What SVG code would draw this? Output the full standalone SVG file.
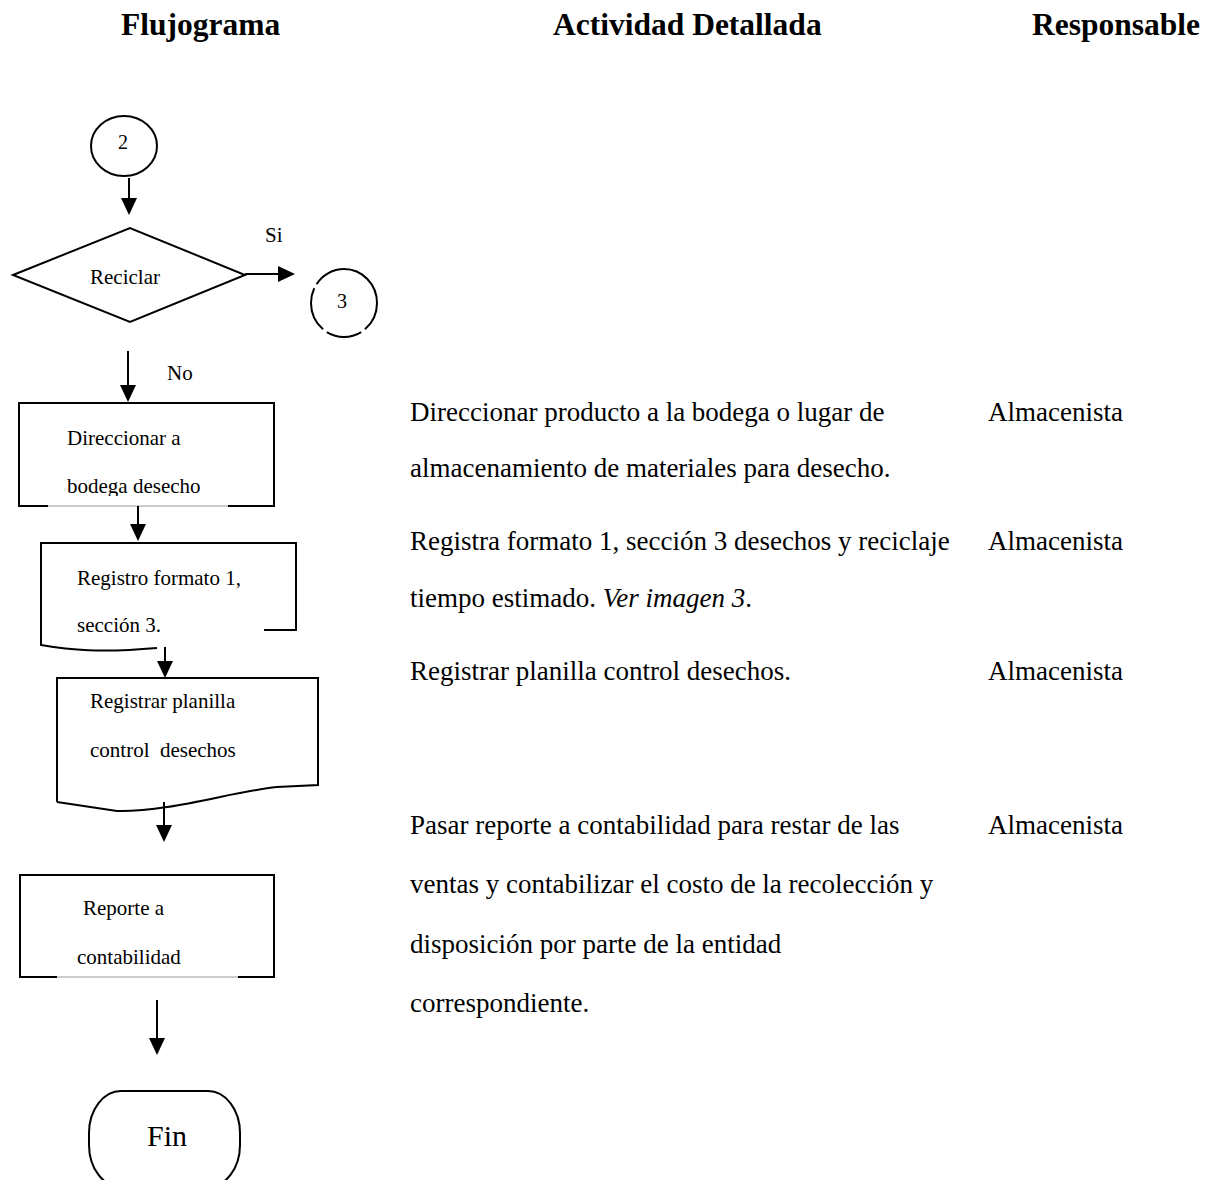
<svg xmlns="http://www.w3.org/2000/svg" width="1212" height="1180" viewBox="0 0 1212 1180">
  <defs>
    <style>
      text { font-family: "Liberation Serif", "Times New Roman", serif; fill: #000; }
      .hd { font-weight: bold; font-size: 31.5px; }
      .bd { font-size: 27px; }
      .fc { font-size: 21px; }
      .num { font-size: 20px; text-anchor: middle; }
      .sh { fill: none; stroke: #000; stroke-width: 2; }
      .thin { fill: none; stroke: #9a9a9a; stroke-width: 1; }
      .ln { fill: none; stroke: #000; stroke-width: 2; marker-end: url(#ah); }
    </style>
    <marker id="ah" markerUnits="userSpaceOnUse" markerWidth="17" markerHeight="16" viewBox="0 0 17 16" refX="7" refY="8" orient="auto">
      <path d="M0,0 L17,8 L0,16 Z" fill="#000"/>
    </marker>
    <clipPath id="clipBodega">
      <rect x="0" y="400" width="300" height="96"/>
    </clipPath>
  </defs>

  <rect width="1212" height="1180" fill="#fff"/>

  <!-- column headings -->
  <g id="headings">
    <text class="hd" x="121" y="35">Flujograma</text>
    <text class="hd" x="553" y="35">Actividad Detallada</text>
    <text class="hd" x="1032" y="35">Responsable</text>
  </g>

  <!-- flowchart nodes -->
  <g id="conector-2">
    <ellipse class="sh" cx="124" cy="146" rx="33" ry="30"/>
    <text class="num" x="123" y="149">2</text>
  </g>

  <g id="decision-reciclar">
    <polygon class="sh" points="13,275 130,228 245,275 130,322"/>
    <text class="fc" x="90" y="284">Reciclar</text>
  </g>

  <g id="conector-3">
    <ellipse class="sh" cx="344" cy="303" rx="33" ry="34" pathLength="360" stroke-dasharray="51 8 62 8 77 8 146"/>
    <text class="num" x="342" y="308">3</text>
  </g>

  <g id="direccionar-bodega">
    <path class="sh" d="M48,506 L19,506 L19,403 L274,403 L274,506 L228,506"/>
    <path class="thin" d="M48,506 L228,506"/>
    <text class="fc" x="67" y="445">Direccionar a</text>
    <text class="fc" x="67" y="493" clip-path="url(#clipBodega)">bodega desecho</text>
  </g>

  <g id="registro-formato">
    <path class="sh" d="M264,630 L296,630 L296,543 L41,543 L41,645 C70,650 100,653 157,648"/>
    <text class="fc" x="77" y="585">Registro formato 1,</text>
    <text class="fc" x="77" y="632">sección 3.</text>
  </g>

  <g id="registrar-planilla">
    <path class="sh" d="M57,802 L57,678 L318,678 L318,785 L277,787 C230,792 170,812 117,811 L57,802"/>
    <text class="fc" x="90" y="708">Registrar planilla</text>
    <text class="fc" x="90" y="757" xml:space="preserve">control  desechos</text>
  </g>

  <g id="reporte-contabilidad">
    <path class="sh" d="M57,977 L20,977 L20,875 L274,875 L274,977 L238,977"/>
    <path class="thin" d="M57,977 L238,977"/>
    <text class="fc" x="83" y="915">Reporte a</text>
    <text class="fc" x="77" y="964">contabilidad</text>
  </g>

  <g id="fin">
    <rect class="sh" x="89" y="1091" width="151" height="96" rx="32" ry="42"/>
    <text x="147" y="1146" font-size="30">Fin</text>
  </g>

  <!-- connectors -->
  <g id="connectors">
    <line class="ln" x1="129" y1="178" x2="129" y2="205"/>
    <line class="ln" x1="245" y1="274" x2="285" y2="274"/>
    <line class="ln" x1="128" y1="351" x2="128" y2="392"/>
    <line class="ln" x1="138" y1="506" x2="138" y2="531"/>
    <line class="ln" x1="165" y1="647" x2="165" y2="668"/>
    <line class="ln" x1="164" y1="802" x2="164" y2="832"/>
    <line class="ln" x1="157" y1="1000" x2="157" y2="1045"/>
    <text class="fc" x="265" y="242">Si</text>
    <text class="fc" x="167" y="380">No</text>
  </g>

  <!-- activity descriptions -->
  <g id="actividades">
    <text class="bd" x="410" y="421">Direccionar producto a la bodega o lugar de</text>
    <text class="bd" x="410" y="477">almacenamiento de materiales para desecho.</text>
    <text class="bd" x="410" y="550">Registra formato 1, sección 3 desechos y reciclaje</text>
    <text class="bd" x="410" y="607">tiempo estimado. <tspan font-style="italic">Ver imagen 3</tspan>.</text>
    <text class="bd" x="410" y="680">Registrar planilla control desechos.</text>
    <text class="bd" x="410" y="834">Pasar reporte a contabilidad para restar de las</text>
    <text class="bd" x="410" y="893">ventas y contabilizar el costo de la recolección y</text>
    <text class="bd" x="410" y="953">disposición por parte de la entidad</text>
    <text class="bd" x="410" y="1012">correspondiente.</text>
  </g>

  <!-- responsible column -->
  <g id="responsables">
    <text class="bd" x="988" y="421">Almacenista</text>
    <text class="bd" x="988" y="550">Almacenista</text>
    <text class="bd" x="988" y="680">Almacenista</text>
    <text class="bd" x="988" y="834">Almacenista</text>
  </g>
</svg>
